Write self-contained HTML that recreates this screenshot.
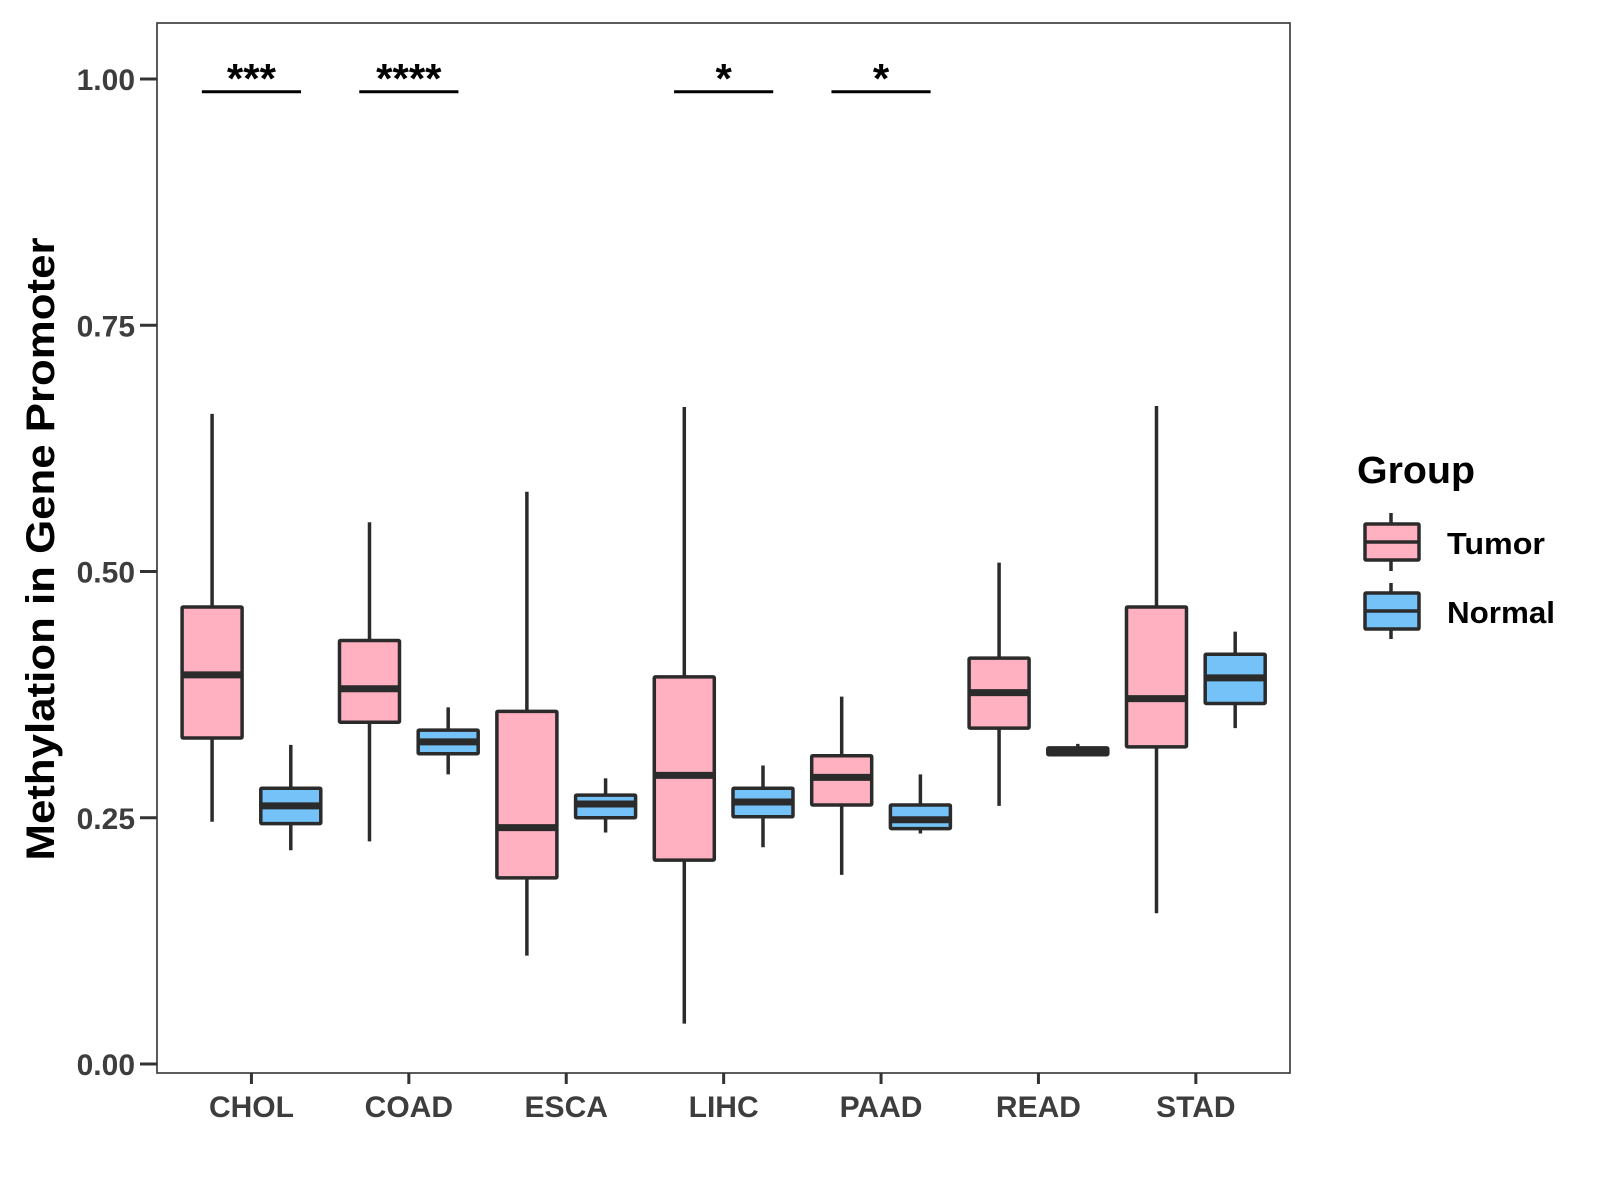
<!DOCTYPE html>
<html><head><meta charset="utf-8"><style>
html,body{margin:0;padding:0;background:#fff;}
svg{display:block;font-family:"Liberation Sans",Arial,sans-serif;}
</style></head><body>
<svg id="chart" width="1600" height="1200" viewBox="0 0 1600 1200">
<rect x="0" y="0" width="1600" height="1200" fill="#fff"/>
<g id="plot"></g>
<rect x="157" y="23" width="1133" height="1050" fill="none" stroke="#333" stroke-width="1.6"/>
<text x="40" y="549" transform="rotate(-90 40 549)" dy="14" text-anchor="middle" font-size="40" font-weight="bold" textLength="623" lengthAdjust="spacingAndGlyphs" fill="#000">Methylation in Gene Promoter</text>
<g>
<text x="1357" y="483" font-size="38" font-weight="bold" textLength="118" lengthAdjust="spacingAndGlyphs">Group</text>
<g>
<line x1="1391" x2="1391" y1="513" y2="571" stroke="#2b2b2b" stroke-width="3.5"/>
<rect x="1365" y="524" width="54" height="36" fill="#FFB0C1" stroke="#2b2b2b" stroke-width="3.5" rx="1"/>
<line x1="1365" x2="1419" y1="542" y2="542" stroke="#2b2b2b" stroke-width="3.5"/>
<text x="1447" y="554" font-size="31" font-weight="bold" textLength="98" lengthAdjust="spacingAndGlyphs">Tumor</text>
</g>
<g>
<line x1="1391" x2="1391" y1="583" y2="639" stroke="#2b2b2b" stroke-width="3.5"/>
<rect x="1365" y="593" width="54" height="36" fill="#74C2F8" stroke="#2b2b2b" stroke-width="3.5" rx="1"/>
<line x1="1365" x2="1419" y1="611" y2="611" stroke="#2b2b2b" stroke-width="3.5"/>
<text x="1447" y="623" font-size="31" font-weight="bold" textLength="108" lengthAdjust="spacingAndGlyphs">Normal</text>
</g>
</g>
</svg>
<script>
const categories = ["CHOL","COAD","ESCA","LIHC","PAAD","READ","STAD"];
// [lower whisker, q1, median, q3, upper whisker]
const tumorStats = [
 [0.246,0.331,0.395,0.464,0.660],
 [0.226,0.347,0.381,0.430,0.550],
 [0.110,0.189,0.240,0.358,0.581],
 [0.041,0.207,0.293,0.393,0.667],
 [0.192,0.263,0.291,0.313,0.373],
 [0.262,0.341,0.377,0.412,0.509],
 [0.153,0.322,0.371,0.464,0.668]
];
const normalStats = [
 [0.217,0.244,0.262,0.280,0.324],
 [0.294,0.315,0.327,0.339,0.362],
 [0.235,0.250,0.264,0.273,0.290],
 [0.220,0.251,0.266,0.280,0.303],
 [0.234,0.239,0.248,0.263,0.294],
 [0.313,0.314,0.318,0.321,0.325],
 [0.341,0.366,0.392,0.416,0.439]
];
const sigLabels = ["***","****","","*","*","",""];
const sigLevel = 0.987;
const yTicks = [0,0.25,0.5,0.75,1.0];
const yTickLabels = ["0.00","0.25","0.50","0.75","1.00"];

const NS="http://www.w3.org/2000/svg";
const g=document.getElementById('plot');
const unit=157.4, left=157;
function xScale(i){return left+(i+0.6)*unit;}
function yScale(v){return 1064-v*985;}
function mk(tag,attrs,parent){const e=document.createElementNS(NS,tag);for(const k in attrs)e.setAttribute(k,attrs[k]);(parent||g).appendChild(e);return e;}
const stroke="#2b2b2b";

yTicks.forEach((t,i)=>{
  const y=yScale(t);
  const tk=mk('line',{x1:140,x2:157,y1:y,y2:y,stroke:"#333","stroke-width":3});
  
  
  const tx=mk('text',{x:135,y:y+11,"text-anchor":"end","font-size":30,"font-weight":"bold",fill:"#3d3d3d"});
  tx.textContent=yTickLabels[i];
  
  
});
categories.forEach((c,i)=>{
  const x=xScale(i);
  const tk=mk('line',{x1:x,x2:x,y1:1073,y2:1084,stroke:"#333","stroke-width":3});
  
  
  const tx=mk('text',{x:x,y:1117,"text-anchor":"middle","font-size":30,"font-weight":"bold",fill:"#3d3d3d"});
  tx.textContent=c;
  
  
});
function box(s,cx,fill,name){
  const bg=mk('g',{});
  
  
  const w=60;
  mk('line',{x1:cx,x2:cx,y1:yScale(s[0]),y2:yScale(s[4]),stroke:stroke,"stroke-width":3.5},bg);
  mk('rect',{x:cx-w/2,y:yScale(s[3]),width:w,height:yScale(s[1])-yScale(s[3]),fill:fill,stroke:stroke,"stroke-width":3.5,rx:1},bg);
  mk('line',{x1:cx-w/2,x2:cx+w/2,y1:yScale(s[2]),y2:yScale(s[2]),stroke:stroke,"stroke-width":7},bg);
}
categories.forEach((c,i)=>{
  const x=xScale(i);
  box(tumorStats[i],x-0.25*unit,"#FFB0C1",'box-tumor-'+c.toLowerCase());
  box(normalStats[i],x+0.25*unit,"#74C2F8",'box-normal-'+c.toLowerCase());
  if(sigLabels[i]){
    const y=yScale(sigLevel);
    const ln=mk('line',{x1:x-0.315*unit,x2:x+0.315*unit,y1:y,y2:y,stroke:"#000","stroke-width":3});
    
    
    const tx=mk('text',{x:x,y:y+1,"text-anchor":"middle","font-size":42,"font-weight":"bold",fill:"#000"});
    tx.textContent=sigLabels[i];
    
    
  }
});
</script>
</body></html>
